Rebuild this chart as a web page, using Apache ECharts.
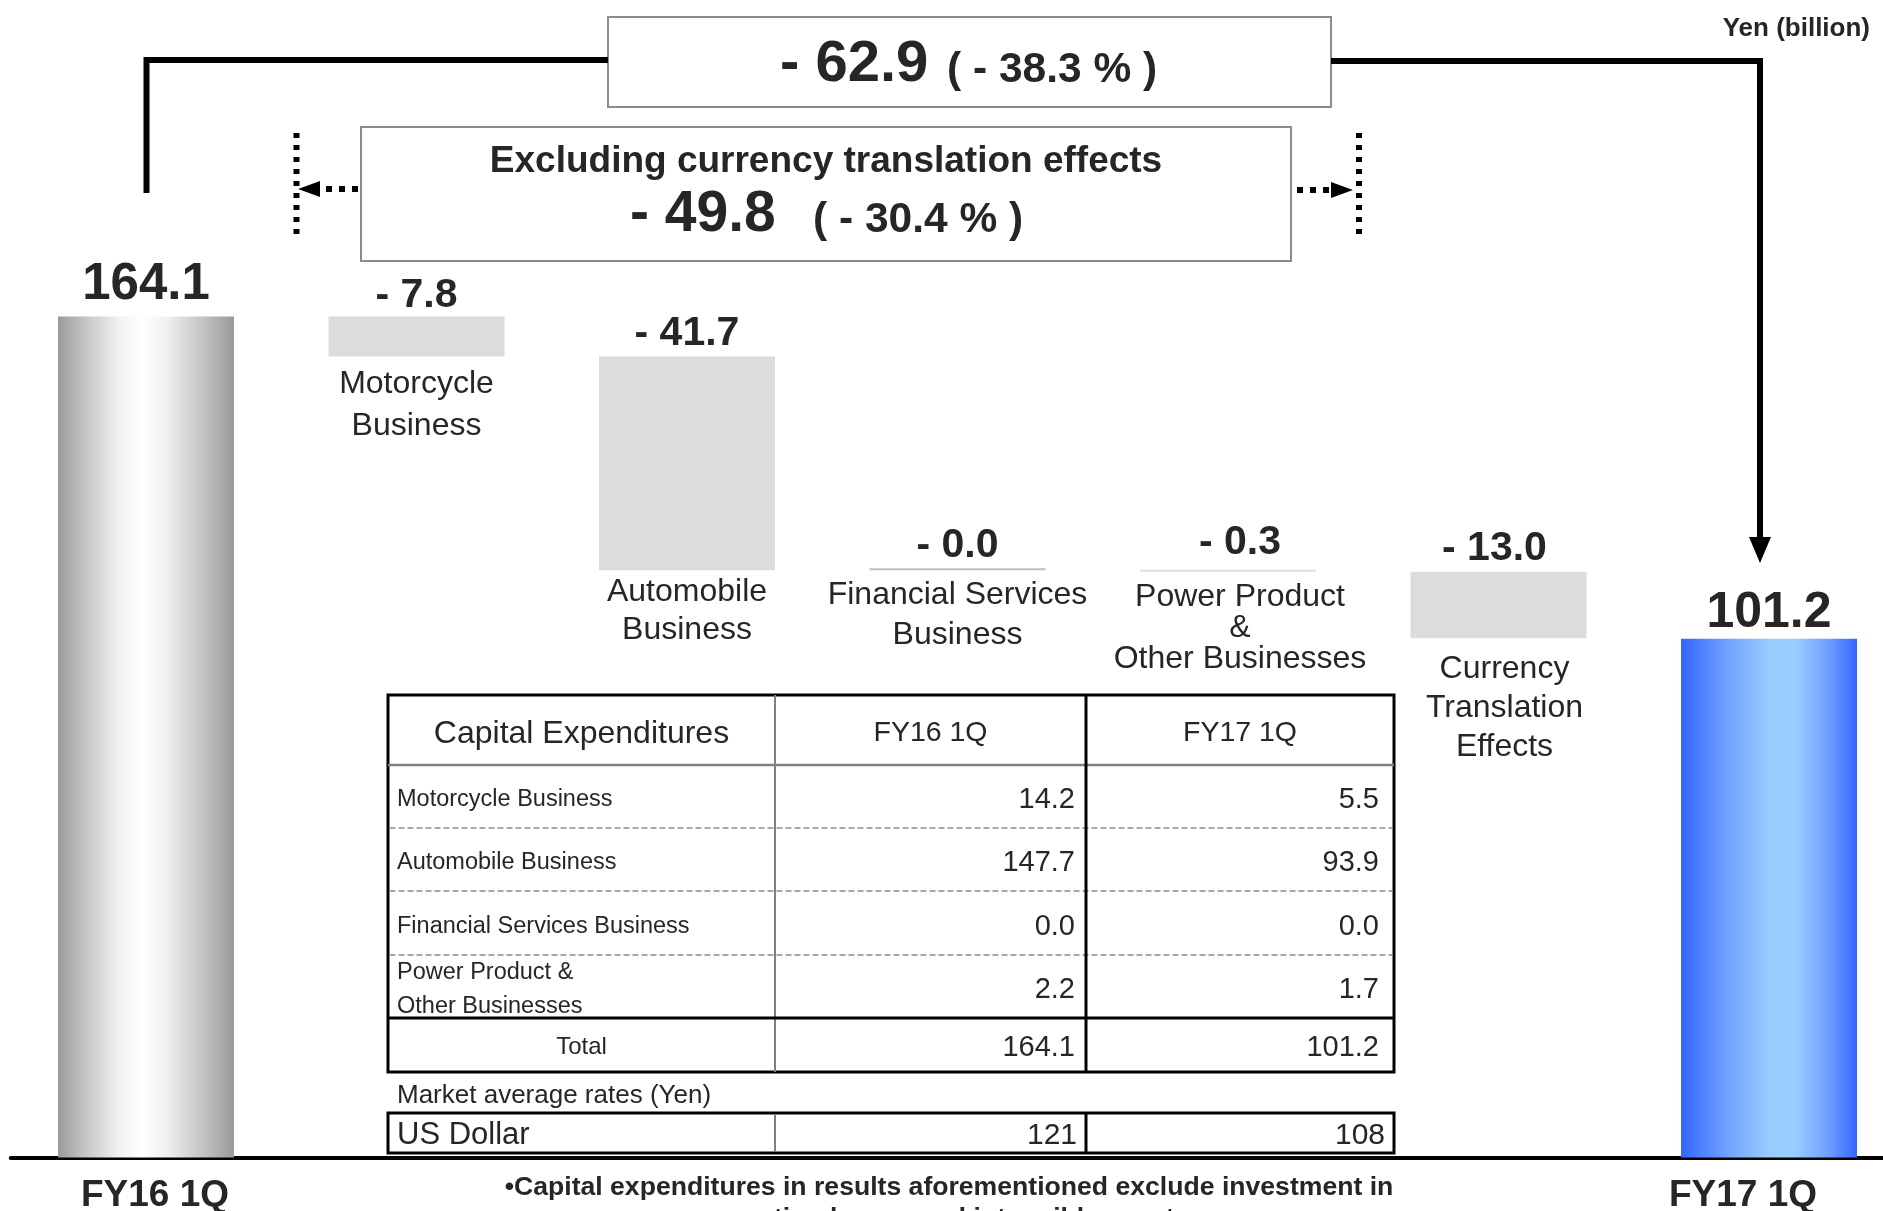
<!DOCTYPE html>
<html>
<head>
<meta charset="utf-8">
<script src="https://cdn.jsdelivr.net/npm/echarts@6/dist/echarts.min.js"></script>
<style>
  html, body { margin: 0; padding: 0; background: #fff; }
  #main { width: 1883px; height: 1211px; }
</style>
</head>
<body>
<div id="main"></div>
<script>
// waterfall data (Yen billion)
var categories = ['FY16 1Q', 'Motorcycle\nBusiness', 'Automobile\nBusiness', 'Financial Services\nBusiness',
  'Power Product\n&\nOther Businesses', 'Currency\nTranslation\nEffects', 'FY17 1Q'];
var startTotal = 164.1;
var changes = [-7.8, -41.7, -0.0, -0.3, -13.0];
var endTotal = 101.2;

// table data
var tableRows = ['Motorcycle Business', 'Automobile Business', 'Financial Services Business', 'Power Product &\nOther Businesses'];
var capexFY16 = [14.2, 147.7, 0.0, 2.2];
var capexFY17 = [5.5, 93.9, 0.0, 1.7];
var capexTotals = [164.1, 101.2];
var usdRates = [121, 108];

var TXT = '#262626';
var FONT = '"Liberation Sans", Arial, sans-serif';

// build waterfall series
var base = [0], heights = [startTotal], valueTexts = [startTotal.toFixed(1)];
var running = startTotal;
changes.forEach(function (c) {
  running = Math.round((running + c) * 10) / 10;
  base.push(running);
  heights.push(Math.abs(c));
  valueTexts.push('- ' + Math.abs(c).toFixed(1));
});
base.push(0);
heights.push(endTotal);
valueTexts.push(endTotal.toFixed(1));

var grayGrad = new echarts.graphic.LinearGradient(0, 0, 1, 0, [
  { offset: 0, color: '#9a9a9a' }, { offset: 0.15, color: '#c4c4c4' }, { offset: 0.35, color: '#f2f2f2' },
  { offset: 0.48, color: '#ffffff' }, { offset: 0.62, color: '#efefef' }, { offset: 0.82, color: '#c4c4c4' },
  { offset: 1, color: '#999999' }
]);
var blueGrad = new echarts.graphic.LinearGradient(0, 0, 1, 0, [
  { offset: 0, color: '#3366ff' }, { offset: 0.25, color: '#6d9fff' }, { offset: 0.5, color: '#99ccff' },
  { offset: 0.65, color: '#99ccff' }, { offset: 0.85, color: '#6b9bff' }, { offset: 1, color: '#3366ff' }
]);
var barColors = [grayGrad, '#dcdcdc', '#dcdcdc', '#bfbfbf', '#dcdcdc', '#dcdcdc', blueGrad];
var valueSize = [51, 41, 41, 41, 41, 41, 50];
var valueGap = [6, 0, 2, 2, 7, 3, 1];
var valueShift = [0, 0, 0, 0, 12, -4, 0];
var nameGap = [0, 7, 3, 5, 10, 11, 0];
var nameLine = [31, 42, 38, 40, 31, 39, 31];
var nameShift = [0, 0, 0, 0, 12, 6, 0];

var chart = echarts.init(document.getElementById('main'), null, { renderer: 'canvas' });

function txt(x, y, text, size, bold, align, lineHeight) {
  return {
    type: 'text', x: x, y: y, silent: true, z: 100,
    style: {
      text: text, fill: TXT, fontSize: size, fontWeight: bold ? 'bold' : 'normal', fontFamily: FONT,
      align: align || 'left', verticalAlign: 'middle', lineHeight: lineHeight || size
    }
  };
}
function line(x1, y1, x2, y2, color, width, dash) {
  return {
    type: 'line', silent: true, z: 100,
    shape: { x1: x1, y1: y1, x2: x2, y2: y2 },
    style: { stroke: color, lineWidth: width, lineDash: dash || null }
  };
}
function rect(x, y, w, h, stroke, width) {
  return {
    type: 'rect', silent: true, z: 99,
    shape: { x: x, y: y, width: w, height: h },
    style: { fill: '#fff', stroke: stroke, lineWidth: width }
  };
}
function poly(points) {
  return { type: 'polygon', silent: true, z: 100, shape: { points: points }, style: { fill: '#000' } };
}

var g = [];
// bracket from FY16 to FY17
g.push({ type: 'polyline', silent: true, z: 100, shape: { points: [[146.5, 193], [146.5, 60], [608, 60]] },
  style: { stroke: '#000', lineWidth: 6, fill: null, lineJoin: 'miter' } });
g.push({ type: 'polyline', silent: true, z: 100, shape: { points: [[1331, 61], [1760, 61], [1760, 540]] },
  style: { stroke: '#000', lineWidth: 6, fill: null, lineJoin: 'miter' } });
g.push(poly([[1749, 537], [1771, 537], [1760, 563]]));
g.push(rect(608, 17, 723, 90, '#8c8c8c', 2));
g.push(txt(780, 64.5, '- 62.9', 58, true));
g.push(txt(947, 70, '( - 38.3 % )', 42.5, true));

// excluding currency box
g.push(rect(361, 127, 930, 134, '#8c8c8c', 2));
g.push(txt(826, 161.5, 'Excluding currency translation effects', 37, true, 'center'));
g.push(txt(630, 215.5, '- 49.8', 57, true));
g.push(txt(813, 220.5, '( - 30.4 % )', 42.5, true));
g.push(line(296.5, 133, 296.5, 236, '#000', 6, [5, 7]));
g.push(line(358, 189, 318, 189, '#000', 6, [6, 7]));
g.push(poly([[298, 189], [320, 181], [320, 197]]));
g.push(line(1359, 133, 1359, 236, '#000', 6, [5, 7]));
g.push(line(1297, 190, 1332, 190, '#000', 6, [6, 7]));
g.push(poly([[1353, 190], [1331, 182], [1331, 198]]));
g.push(txt(1870, 29, 'Yen (billion)', 26, true, 'right'));

// capex table
var TL = 388, TR = 1394, C1 = 775, C2 = 1086, TT = 695, HB = 765, TB = 1018, BB = 1072;
var rowLines = [828, 891, 955];
var rowMid = [796.5, 859.5, 923, 986.5];
g.push(rect(TL, TT, TR - TL, BB - TT, '#000', 3));
g.push(line(TL, HB, TR, HB, '#808080', 2.5));
rowLines.forEach(function (y) { g.push(line(TL + 1.5, y, TR - 1.5, y, '#8a8a8a', 1.5, [6, 3])); });
g.push(line(C1, TT, C1, BB, '#808080', 2));
g.push(line(TL, TB, TR, TB, '#000', 3));
g.push(line(C2, TT, C2, BB, '#000', 3));
g.push(txt((TL + C1) / 2, 734, 'Capital Expenditures', 32, false, 'center'));
g.push(txt((C1 + C2) / 2, 733.5, 'FY16 1Q', 28.5, false, 'center'));
g.push(txt((C2 + TR) / 2, 733.5, 'FY17 1Q', 28.5, false, 'center'));
tableRows.forEach(function (name, i) {
  g.push(txt(397, rowMid[i] + 3.5, name, 23.5, false, 'left', 34));
  g.push(txt(1075, rowMid[i] + 3.5, capexFY16[i].toFixed(1), 29, false, 'right'));
  g.push(txt(1379, rowMid[i] + 3.5, capexFY17[i].toFixed(1), 29, false, 'right'));
});
g.push(txt((TL + C1) / 2, 1047, 'Total', 24, false, 'center'));
g.push(txt(1075, 1047.5, capexTotals[0].toFixed(1), 29, false, 'right'));
g.push(txt(1379, 1047.5, capexTotals[1].toFixed(1), 29, false, 'right'));

// exchange rates
g.push(txt(397, 1096, 'Market average rates (Yen)', 26, false));
g.push(rect(TL, 1113, TR - TL, 40, '#000', 3));
g.push(line(C1, 1114.5, C1, 1151.5, '#808080', 2));
g.push(line(C2, 1113, C2, 1153, '#000', 3));
g.push(txt(397, 1135, 'US Dollar', 31, false));
g.push(txt(1077, 1136, String(usdRates[0]), 30, false, 'right'));
g.push(txt(1385, 1136, String(usdRates[1]), 30, false, 'right'));

// footnote
g.push(txt(949, 1203, '\u2022Capital expenditures in results aforementioned exclude investment in\noperating leases and intangible assets.', 26.6, true, 'center', 31));

var option = {
  backgroundColor: '#fff',
  animation: false,
  textStyle: { fontFamily: FONT },
  grid: { left: 10.75, right: -21.25, top: 132.5, bottom: 53.5, outerBoundsMode: 'none', containLabel: false },
  xAxis: {
    type: 'category',
    data: categories,
    axisLine: { lineStyle: { color: '#000', width: 4 } },
    axisTick: { show: false },
    axisLabel: {
      interval: 0, margin: 20,
      formatter: function (v, i) {
        if (i === 0) return '{a|' + v + '}';
        if (i === categories.length - 1) return '{b|' + v + '}';
        return '';
      },
      rich: {
        a: { fontSize: 37, fontWeight: 'bold', color: TXT, lineHeight: 37, padding: [0, 0, 0, 18] },
        b: { fontSize: 37, fontWeight: 'bold', color: TXT, lineHeight: 37, padding: [0, 52, 0, 0] }
      }
    }
  },
  yAxis: { type: 'value', min: 0, max: 200, show: false },
  series: [
    {
      name: 'base', type: 'bar', stack: 'wf', barWidth: 176, silent: true,
      itemStyle: { color: 'rgba(0,0,0,0)' },
      label: {
        show: true, position: 'insideTop', color: TXT, fontSize: 32, textBorderWidth: 0,
        formatter: function (p) {
          return (p.dataIndex === 0 || p.dataIndex === categories.length - 1) ? '' : categories[p.dataIndex];
        }
      },
      data: base.map(function (v, i) {
        return { value: v, label: { distance: nameGap[i], lineHeight: nameLine[i], offset: [nameShift[i], 0] } };
      })
    },
    {
      name: 'value', type: 'bar', stack: 'wf', barWidth: 176, barMinHeight: 2, silent: true,
      label: {
        show: true, position: 'top', color: TXT, fontWeight: 'bold',
        formatter: function (p) { return valueTexts[p.dataIndex]; }
      },
      data: heights.map(function (v, i) {
        return {
          value: v,
          itemStyle: { color: barColors[i] },
          label: { fontSize: valueSize[i], lineHeight: valueSize[i], distance: valueGap[i], offset: [valueShift[i], 0] }
        };
      })
    }
  ],
  graphic: { elements: g }
};
chart.setOption(option);
</script>
</body>
</html>
